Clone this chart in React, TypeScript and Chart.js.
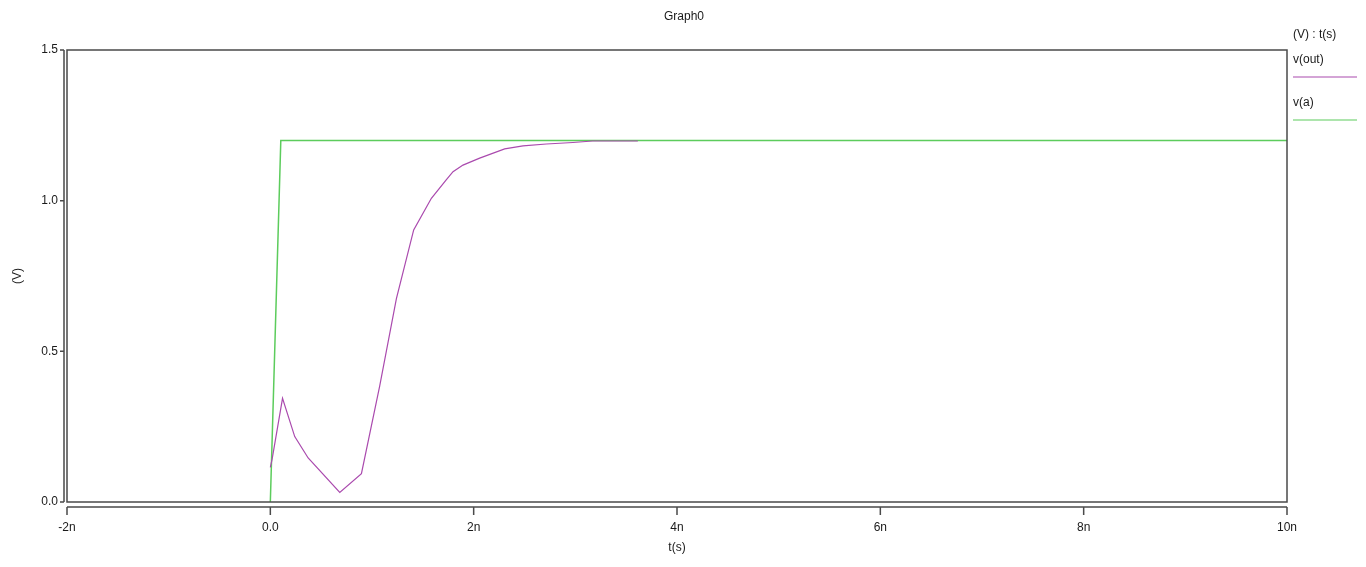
import React, { useEffect, useRef } from "react";
import { Chart, registerables } from "chart.js";

Chart.register(...registerables);

// time in ns, voltage in V
const outTime = [0, 0.018, 0.12, 0.24, 0.372, 0.683, 0.896, 1.076, 1.24, 1.41, 1.584, 1.73, 1.797, 1.895, 2.059, 2.305, 2.485, 2.715, 2.976, 3.17, 3.615];
const outVolt = [0.115, 0.143, 0.344, 0.217, 0.146, 0.032, 0.094, 0.385, 0.675, 0.903, 1.008, 1.069, 1.096, 1.118, 1.141, 1.172, 1.182, 1.188, 1.193, 1.198, 1.198];
const aTime = [0, 0.103, 10];
const aVolt = [0, 1.2, 1.2];

const seriesLabels = ["v(out)", "v(a)"];
const seriesColors = ["#aa4aae", "#5ccc5c"];
const chartTitle = "Graph0";
const legendHeader = "(V) : t(s)";
const xTitle = "t(s)";
const yTitle = "(V)";

const FONT = "'Liberation Sans', Arial, sans-serif";

const decorPlugin = {
  id: "decor",
  afterDraw(chart: any) {
    const { ctx, chartArea, scales } = chart;
    const { left, right, top, bottom } = chartArea;
    ctx.save();
    ctx.strokeStyle = "#4a4a4a";
    ctx.lineWidth = 1.5;
    // plot box
    ctx.strokeRect(left, top, right - left, bottom - top);
    // x axis line + ticks
    const xa = bottom + 5;
    ctx.beginPath();
    ctx.moveTo(left, xa);
    ctx.lineTo(right, xa);
    scales.x.ticks.forEach((t: any) => {
      const px = scales.x.getPixelForValue(t.value);
      ctx.moveTo(px, xa);
      ctx.lineTo(px, xa + 8);
    });
    // y axis line + ticks
    const ya = left - 3;
    ctx.moveTo(ya, top);
    ctx.lineTo(ya, bottom);
    scales.y.ticks.forEach((t: any) => {
      const py = scales.y.getPixelForValue(t.value);
      ctx.moveTo(ya, py);
      ctx.lineTo(ya - 4, py);
    });
    ctx.stroke();

    // title
    ctx.fillStyle = "#1a1a1a";
    ctx.font = `12px ${FONT}`;
    ctx.textAlign = "center";
    ctx.textBaseline = "middle";
    ctx.fillText(chartTitle, (left + right) / 2 + 7, 17);

    // legend
    ctx.textAlign = "left";
    const lx = right + 6;
    ctx.fillText(legendHeader, lx, 35);
    chart.data.datasets.forEach((ds: any, i: number) => {
      const ty = 60 + i * 43;
      ctx.fillStyle = "#1a1a1a";
      ctx.fillText(ds.label, lx, ty);
      ctx.strokeStyle = ds.borderColor;
      ctx.lineWidth = 1.2;
      ctx.beginPath();
      ctx.moveTo(lx, ty + 17);
      ctx.lineTo(lx + 64, ty + 17);
      ctx.stroke();
    });
    ctx.restore();
  },
};

export default function App() {
  const ref = useRef<HTMLCanvasElement>(null);
  useEffect(() => {
    if (!ref.current) return;
    const chart = new Chart(ref.current, {
      type: "line",
      data: {
        datasets: [
          {
            label: seriesLabels[0],
            data: outTime.map((t, i) => ({ x: t, y: outVolt[i] })),
            borderColor: seriesColors[0],
            borderWidth: 1.2,
            pointRadius: 0,
            tension: 0,
            fill: false,
          },
          {
            label: seriesLabels[1],
            data: aTime.map((t, i) => ({ x: t, y: aVolt[i] })),
            borderColor: seriesColors[1],
            borderWidth: 1.5,
            pointRadius: 0,
            tension: 0,
            fill: false,
          },
        ],
      },
      options: {
        animation: false,
        responsive: false,
        layout: { padding: { top: 50, right: 79, left: 0, bottom: 0 } },
        plugins: {
          legend: { display: false },
          title: { display: false },
          tooltip: { enabled: false },
        },
        scales: {
          x: {
            type: "linear",
            min: -2,
            max: 10,
            ticks: {
              stepSize: 2,
              padding: 18,
              color: "#1a1a1a",
              font: { family: FONT, size: 12 },
              maxRotation: 0,
              callback: (v: any) => (Number(v) === 0 ? "0.0" : `${Math.round(Number(v))}n`),
            },
            grid: { display: false, drawTicks: false },
            border: { display: false },
            title: {
              display: true,
              text: xTitle,
              color: "#1a1a1a",
              font: { family: FONT, size: 12 },
              padding: { top: 0, bottom: 12 },
            },
            afterFit: (s: any) => {
              s.height = 65;
            },
          },
          y: {
            type: "linear",
            min: 0,
            max: 1.5,
            ticks: {
              stepSize: 0.5,
              padding: 9,
              color: "#1a1a1a",
              font: { family: FONT, size: 12 },
              callback: (v: any) => Number(v).toFixed(1),
            },
            grid: { display: false, drawTicks: false },
            border: { display: false },
            title: {
              display: true,
              text: yTitle,
              color: "#1a1a1a",
              font: { family: FONT, size: 12 },
              padding: { top: 10, bottom: 0 },
            },
            afterFit: (s: any) => {
              s.width = 67;
            },
          },
        },
      },
      plugins: [decorPlugin],
    });
    return () => chart.destroy();
  }, []);
  return (
    <div style={{ position: "absolute", left: 0, top: 0, width: 1366, height: 567, background: "#fff" }}>
      <canvas ref={ref} width={1366} height={567} style={{ display: "block" }} />
    </div>
  );
}
